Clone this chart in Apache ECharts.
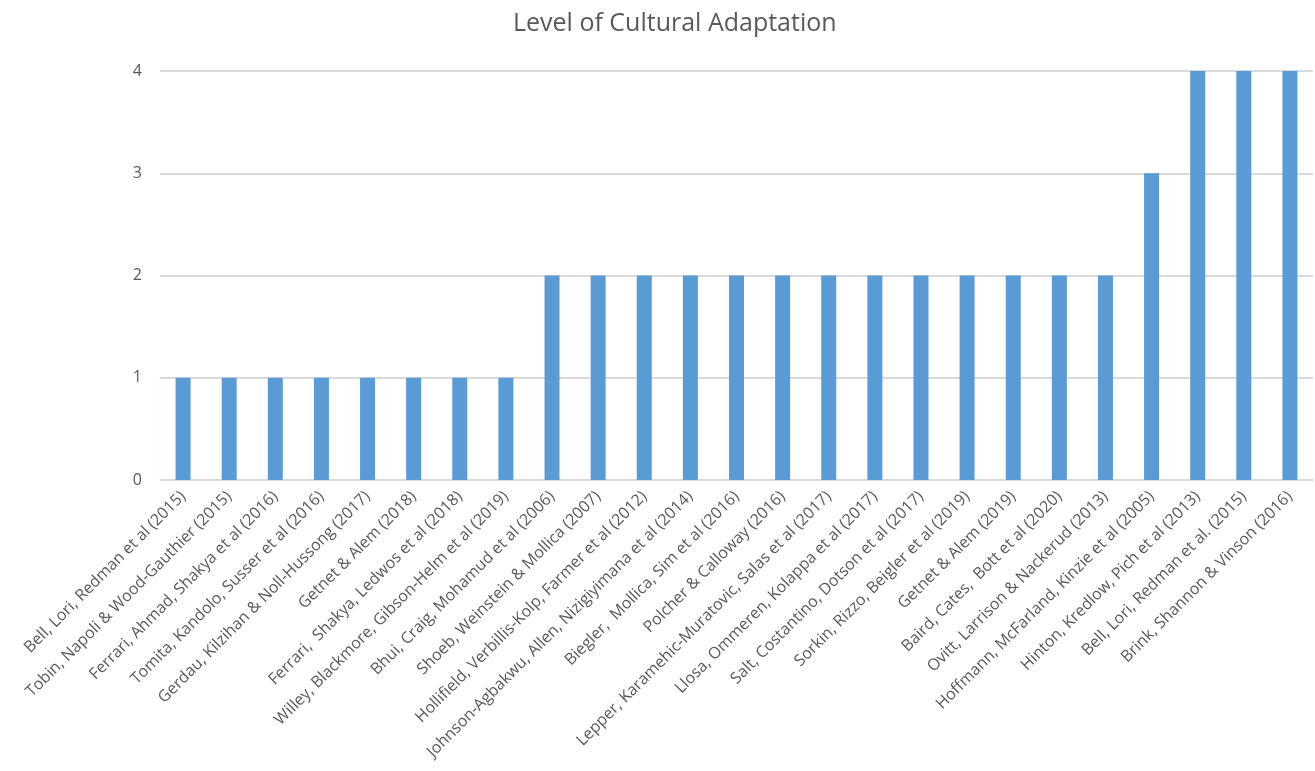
<!DOCTYPE html>
<html><head><meta charset="utf-8">
<script src="https://cdn.jsdelivr.net/npm/echarts@6/dist/echarts.min.js"></script>
<style>html,body{margin:0;padding:0;background:#fff}#c{width:1315px;height:771px}</style>
</head><body><div id="c"></div>
<script>
const categories = [
"Bell, Lori, Redman et al (2015)",
"Tobin, Napoli & Wood-Gauthier (2015)",
"Ferrari, Ahmad, Shakya et al (2016)",
"Tomita, Kandolo, Susser et al (2016)",
"Gerdau, Kilzihan & Noll-Hussong (2017)",
"Getnet & Alem (2018)",
"Ferrari,  Shakya, Ledwos et al (2018)",
"Willey, Blackmore, Gibson-Helm et al (2019)",
"Bhui, Craig, Mohamud et al (2006)",
"Shoeb, Weinstein & Mollica (2007)",
"Hollifield, Verbillis-Kolp, Farmer et al (2012)",
"Johnson-Agbakwu, Allen, Nizigiyimana et al (2014)",
"Biegler,  Mollica, Sim et al (2016)",
"Polcher & Calloway (2016)",
"Lepper, Karamehic-Muratovic, Salas et al (2017)",
"Llosa, Ommeren, Kolappa et al (2017)",
"Salt, Costantino, Dotson et al (2017)",
"Sorkin, Rizzo, Beigler et al (2019)",
"Getnet & Alem (2019)",
"Baird, Cates,  Bott et al (2020)",
"Ovitt, Larrison & Nackerud (2013)",
"Hoffmann, McFarland, Kinzie et al (2005)",
"Hinton, Kredlow, Pich et al (2013)",
"Bell, Lori, Redman et al. (2015)",
"Brink, Shannon & Vinson (2016)"
];
const values = [1,1,1,1,1,1,1,1,2,2,2,2,2,2,2,2,2,2,2,2,2,3,4,4,4];
const yTicks = [0,1,2,3,4];

const chart = echarts.init(document.getElementById('c'));
chart.setOption({
  animation:false,
  title:{text:'Level of Cultural Adaptation',left:508,top:6,
    textStyle:{fontFamily:'Open Sans',fontSize:25,fontWeight:'normal',color:'#595959'}},
  grid:{left:160,right:2,top:71,bottom:291,containLabel:false},
  xAxis:{type:'category',data:categories,
    axisLine:{show:false},axisTick:{show:false},
    axisLabel:{rotate:45,interval:0,fontFamily:'Open Sans',fontSize:16,color:'#595959',margin:14}},
  yAxis:{type:'value',min:yTicks[0],max:yTicks[yTicks.length-1],interval:1,
    axisLine:{show:false},axisTick:{show:false},
    axisLabel:{fontFamily:'Open Sans',fontSize:16,color:'#595959',margin:18},
    splitLine:{lineStyle:{color:'#d9d9d9',width:2}}},
  series:[{type:'bar',data:values,barWidth:15,itemStyle:{color:'#5b9bd5'}}]
});
</script></body></html>
